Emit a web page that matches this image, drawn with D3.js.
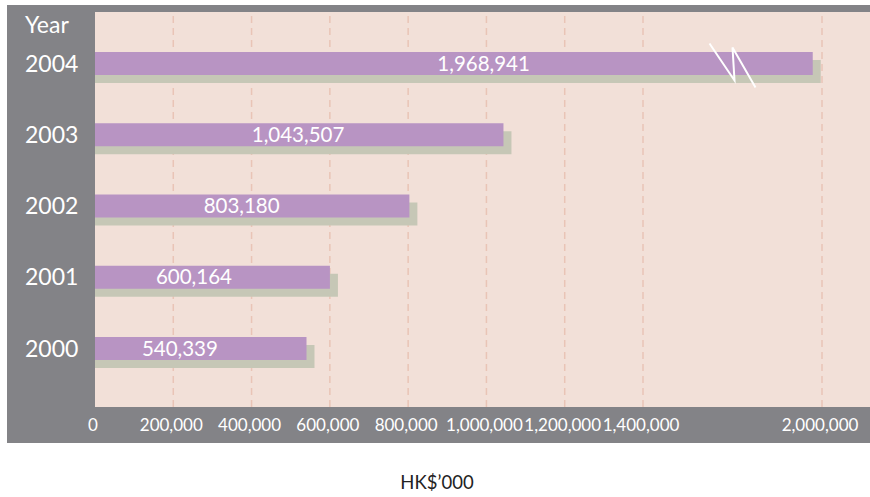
<!DOCTYPE html>
<html>
<head>
<meta charset="utf-8">
<script src="https://cdn.jsdelivr.net/npm/d3@7"></script>
<style>
  body { margin: 0; background: #fff; }
  text { font-family: Lato, "Open Sans", sans-serif; }
</style>
</head>
<body>
<script>
const years = ['2004', '2003', '2002', '2001', '2000']
const values = [1968941, 1043507, 803180, 600164, 540339]
const tickValues = [0, 200000, 400000, 600000, 800000, 1000000, 1200000, 1400000, 2000000]
const gridValues = [200000, 400000, 600000, 800000, 1000000, 1200000, 1400000, 2000000]

const w = 870, h = 497
const plot = { left: 95, top: 12, right: 870, bottom: 407 }

const svg = d3.select('body')
    .append('svg')
    .attr('width', w)
    .attr('height', h)

// grey frame + pink plot area
svg.append('rect')
    .attr('x', 7).attr('y', 5)
    .attr('width', w - 7).attr('height', 438)
    .attr('fill', '#838387')
svg.append('rect')
    .attr('x', plot.left).attr('y', plot.top)
    .attr('width', plot.right - plot.left).attr('height', plot.bottom - plot.top)
    .attr('fill', '#f2e0d8')

// broken scale: 0 - 1.4M linear, then jump to 2M
const xScale = d3.scaleLinear()
    .domain([0, 1400000, 2000000])
    .range([plot.left, 643, 822])

const yScale = d3.scalePoint()
    .domain(years)
    .range([63.5, 348.5])

const barH = 23
const shadow = 8

svg.selectAll('.grid')
    .data(gridValues)
    .enter()
    .append('line')
    .attr('class', 'grid')
    .attr('x1', d => xScale(d)).attr('x2', d => xScale(d))
    .attr('y1', plot.top + 4).attr('y2', plot.bottom)
    .attr('stroke', '#e9c4b6')
    .attr('stroke-width', 1.5)
    .attr('stroke-dasharray', '7,5')

const data = years.map((y, i) => ({ year: y, value: values[i] }))

svg.selectAll('.shadow')
    .data(data)
    .enter()
    .append('rect')
    .attr('class', 'shadow')
    .attr('x', plot.left)
    .attr('y', d => yScale(d.year) - barH / 2 + shadow)
    .attr('width', d => xScale(d.value) - plot.left + shadow)
    .attr('height', barH)
    .attr('fill', '#c6c7b6')

svg.selectAll('.bar')
    .data(data)
    .enter()
    .append('rect')
    .attr('class', 'bar')
    .attr('x', plot.left)
    .attr('y', d => yScale(d.year) - barH / 2)
    .attr('width', d => xScale(d.value) - plot.left)
    .attr('height', barH)
    .attr('fill', '#b894c3')

svg.selectAll('.val')
    .data(data)
    .enter()
    .append('text')
    .attr('class', 'val')
    .attr('x', d => plot.left + 0.6 * (xScale(d.value) - plot.left) - 42)
    .attr('y', d => yScale(d.year) + 7)
    .attr('text-anchor', 'middle')
    .attr('fill', '#fff')
    .style('font-size', '20.5px')
    .text(d => d3.format(',')(d.value))

// break mark on the 2004 bar
const bx = xScale(1700000), by = yScale('2004')
svg.append('path')
    .attr('d', `M${bx - 23},${by - 20} L${bx + 2},${by + 17} L${bx},${by - 16} L${bx + 23},${by + 24}`)
    .attr('fill', 'none')
    .attr('stroke', '#fff')
    .attr('stroke-width', 2)

// year labels
svg.append('text')
    .attr('x', 25).attr('y', 33)
    .attr('fill', '#fff')
    .style('font-size', '23px')
    .text('Year')

svg.selectAll('.year')
    .data(years)
    .enter()
    .append('text')
    .attr('class', 'year')
    .attr('x', 25)
    .attr('y', d => yScale(d) + 8)
    .attr('fill', '#fff')
    .style('font-size', '23px')
    .text(d => d)

// x axis labels
svg.selectAll('.tick-label')
    .data(tickValues)
    .enter()
    .append('text')
    .attr('class', 'tick-label')
    .attr('x', d => xScale(d) - 2)
    .attr('y', 431)
    .attr('text-anchor', 'middle')
    .attr('fill', '#fff')
    .style('font-size', '17px')
    .text(d => d3.format(',')(d))

svg.append('text')
    .attr('x', 437).attr('y', 489)
    .attr('text-anchor', 'middle')
    .attr('fill', '#222')
    .style('font-size', '18.5px')
    .text('HK$\u2019000')
</script>
</body>
</html>
